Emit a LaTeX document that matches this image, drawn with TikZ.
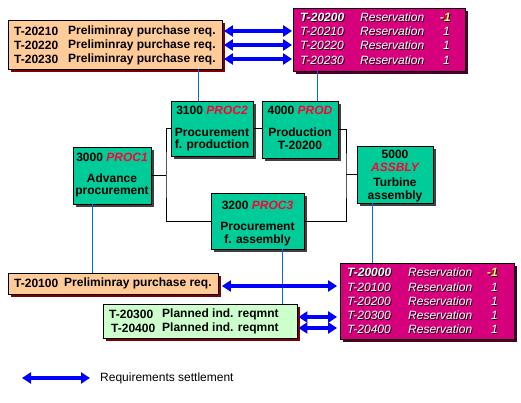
\documentclass[tikz,border=0pt]{standalone}
\usepackage{fontspec}
\setmainfont{Liberation Sans}
\usetikzlibrary{arrows.meta,shadows}
\definecolor{orng}{RGB}{255,204,153}
\definecolor{mgnt}{RGB}{214,0,125}
\definecolor{mgsh}{RGB}{70,0,40}
\definecolor{teal}{RGB}{0,204,153}
\definecolor{ltgr}{RGB}{204,255,204}
\definecolor{maro}{RGB}{128,0,0}
\definecolor{procred}{RGB}{255,0,51}
\definecolor{ylw}{RGB}{255,255,102}
\definecolor{lnblue}{RGB}{0,102,255}
\newcommand\wsh[1]{\makebox[0pt][l]{\hspace{0.9pt}\raisebox{-0.9pt}{\color{black}#1}}#1}
\newcommand\pr[1]{{\color{procred}\itshape #1}}
\begin{document}
\begin{tikzpicture}[x=1pt,y=-1pt,
  font=\fontsize{12}{13}\selectfont\bfseries,
  boxbase/.style={draw=black, line width=0.8pt, inner sep=0pt},
  obox/.style={boxbase, fill=orng, drop shadow={shadow xshift=3pt, shadow yshift=-3pt, opacity=1, fill=maro}},
  gbox/.style={boxbase, fill=ltgr, drop shadow={shadow xshift=3pt, shadow yshift=-3pt, opacity=1, fill=maro}},
  mbox/.style={boxbase, fill=mgnt, drop shadow={shadow xshift=3pt, shadow yshift=-3pt, opacity=1, fill=mgsh}},
  tbox/.style={boxbase, fill=teal, drop shadow={shadow xshift=3pt, shadow yshift=-3pt, opacity=1, fill=black!75}},
  lbl/.style={inner sep=0pt, anchor=west},
  ctr/.style={inner sep=0pt},
  wlbl/.style={inner sep=0pt, anchor=west, text=white, font=\fontsize{12}{13}\selectfont\mdseries\itshape},
  wlblb/.style={wlbl, font=\fontsize{12}{13}\selectfont\bfseries\itshape},
  ylbl/.style={inner sep=0pt, anchor=west, text=ylw, font=\fontsize{12}{13}\selectfont\bfseries\itshape},
  conn/.style={draw=black, line width=0.8pt},
  bl/.style={draw=lnblue, line width=1pt},
  req/.style={draw=blue, line width=3.2pt, {Triangle[length=9pt,width=11pt]}-{Triangle[length=9pt,width=11pt]}}
]
\useasboundingbox (0,0) rectangle (521,403);

% boxes
\node[obox, minimum width=214pt, minimum height=49pt] (otop) at (115,44.5) {};
\node[mbox, minimum width=172pt, minimum height=63pt] (mtop) at (379,39.5) {};
\node[tbox, minimum width=82pt, minimum height=55pt] (p3100) at (212,128.5) {};
\node[tbox, minimum width=76pt, minimum height=57pt] (p4000) at (300,129.5) {};
\node[tbox, minimum width=78pt, minimum height=57pt] (p3000) at (112,175.5) {};
\node[tbox, minimum width=93pt, minimum height=56pt] (p3200) at (257.5,221) {};
\node[tbox, minimum width=76pt, minimum height=57pt] (p5000) at (395,174.5) {};
\node[obox, minimum width=210pt, minimum height=21pt] (obot) at (113,283.5) {};
\node[gbox, minimum width=194pt, minimum height=34pt] (gbot) at (200,321) {};
\node[mbox, minimum width=174pt, minimum height=76pt] (mbot) at (427,301) {};

% top orange texts
\node[lbl] (o1a) at (14,31) {T-20210};
\node[lbl] (o1b) at (68,31) {Preliminray purchase req.};
\node[lbl] (o2a) at (14,45) {T-20220};
\node[lbl] (o2b) at (68,45) {Preliminray purchase req.};
\node[lbl] (o3a) at (14,59) {T-20230};
\node[lbl] (o3b) at (68,59) {Preliminray purchase req.};

% top magenta texts
\node[wlblb] (m0a) at (300,18) {\wsh{T-20200}};
\node[wlbl] (m0b) at (360,18) {\wsh{Reservation}};
\node[ylbl] (m0c) at (440,18) {\wsh{-1}};
\node[wlbl] (m1a) at (300,32) {\wsh{T-20210}};
\node[wlbl] (m1b) at (360,32) {\wsh{Reservation}};
\node[wlbl] (m1c) at (443,32) {\wsh{1}};
\node[wlbl] (m2a) at (300,46) {\wsh{T-20220}};
\node[wlbl] (m2b) at (360,46) {\wsh{Reservation}};
\node[wlbl] (m2c) at (443,46) {\wsh{1}};
\node[wlbl] (m3a) at (300,61) {\wsh{T-20230}};
\node[wlbl] (m3b) at (360,61) {\wsh{Reservation}};
\node[wlbl] (m3c) at (443,61) {\wsh{1}};

% process box texts
\node[ctr] (t3100a) at (212,110) {3100 \pr{PROC2}};
\node[ctr] (t3100b) at (212,132) {Procurement};
\node[ctr] (t3100c) at (212,145.5) {f. production};
\node[ctr] (t4000a) at (300,110) {4000 \pr{PROD}};
\node[ctr] (t4000b) at (300,132) {Production};
\node[ctr] (t4000c) at (300,145.5) {T-20200};
\node[ctr] (t3000a) at (112,157) {3000 \pr{PROC1}};
\node[ctr] (t3000b) at (112,178) {Advance};
\node[ctr] (t3000c) at (112,192) {procurement};
\node[ctr] (t3200a) at (257.5,205) {3200 \pr{PROC3}};
\node[ctr] (t3200b) at (257.5,226) {Procurement};
\node[ctr] (t3200c) at (257.5,240) {f. assembly};
\node[ctr] (t5000a) at (395,154) {5000};
\node[ctr] (t5000b) at (395,167.5) {\pr{ASSBLY}};
\node[ctr] (t5000c) at (395,182) {Turbine};
\node[ctr] (t5000d) at (395,196.5) {assembly};

% bottom orange / green texts
\node[lbl] (ob1a) at (14,283) {T-20100};
\node[lbl] (ob1b) at (64,283) {Preliminray purchase req.};
\node[lbl] (g1a) at (109,314) {T-20300};
\node[lbl] (g1b) at (162,314) {Planned ind. reqmnt};
\node[lbl] (g2a) at (111,328) {T-20400};
\node[lbl] (g2b) at (162,328) {Planned ind. reqmnt};

% bottom magenta texts
\node[wlblb] (n0a) at (347,273) {\wsh{T-20000}};
\node[wlbl] (n0b) at (408,273) {\wsh{Reservation}};
\node[ylbl] (n0c) at (487,273) {\wsh{-1}};
\node[wlbl] (n1a) at (347,288) {\wsh{T-20100}};
\node[wlbl] (n1b) at (408,288) {\wsh{Reservation}};
\node[wlbl] (n1c) at (491,288) {\wsh{1}};
\node[wlbl] (n2a) at (347,302) {\wsh{T-20200}};
\node[wlbl] (n2b) at (408,302) {\wsh{Reservation}};
\node[wlbl] (n2c) at (491,302) {\wsh{1}};
\node[wlbl] (n3a) at (347,316) {\wsh{T-20300}};
\node[wlbl] (n3b) at (408,316) {\wsh{Reservation}};
\node[wlbl] (n3c) at (491,316) {\wsh{1}};
\node[wlbl] (n4a) at (347,330) {\wsh{T-20400}};
\node[wlbl] (n4b) at (408,330) {\wsh{Reservation}};
\node[wlbl] (n4c) at (491,330) {\wsh{1}};

% black connectors
\coordinate (jl) at (166,175);
\coordinate (jr) at (346,176);
\draw[conn] (p3000.east) -- (p3000.east -| jl);
\draw[conn] (p3100.west) -| (jl) |- (p3200.west);
\draw[conn] (p3100.east) -- (p3100.east -| p4000.west);
\draw[conn] (p4000.east) -| (jr) |- (p3200.east);
\draw[conn] (p5000.west) -- (p5000.west -| jr);

% blue vertical links
\coordinate (b1) at (198,0);
\coordinate (b2) at (317,0);
\coordinate (b3) at (92,0);
\coordinate (b4) at (282,0);
\coordinate (b5) at (372,0);
\draw[bl] (otop.south -| b1) -- (p3100.north -| b1);
\draw[bl] (mtop.south -| b2) -- (p4000.north -| b2);
\draw[bl] (p3000.south -| b3) -- (obot.north -| b3);
\draw[bl] (p3200.south -| b4) -- (gbot.north -| b4);
\draw[bl] (p5000.south -| b5) -- (mbot.north -| b5);

% requirement arrows
\draw[req, shorten <=1.5pt, shorten >=0.5pt] (otop.east |- o1b) -- (mtop.west |- o1b);
\draw[req, shorten <=1.5pt, shorten >=0.5pt] (otop.east |- o2b) -- (mtop.west |- o2b);
\draw[req, shorten <=1.5pt, shorten >=0.5pt] (otop.east |- o3b) -- (mtop.west |- o3b);
\coordinate (ra) at (0,286);
\draw[req, shorten <=3.5pt, shorten >=2.5pt] (obot.east |- ra) -- (mbot.west |- ra);
\coordinate (rb) at (0,317);
\coordinate (rc) at (0,328);
\draw[req, shorten <=1pt, shorten >=2.5pt] (gbot.east |- rb) -- (mbot.west |- rb);
\draw[req, shorten <=1pt, shorten >=2.5pt] (gbot.east |- rc) -- (mbot.west |- rc);

% legend
\coordinate (lg1) at (22,378);
\coordinate (lg2) at (90,378);
\draw[req] (lg1) -- (lg2);
\node[lbl, font=\fontsize{12}{13}\selectfont\mdseries] (lgt) at (100,378) {Requirements settlement};
\end{tikzpicture}
\end{document}
